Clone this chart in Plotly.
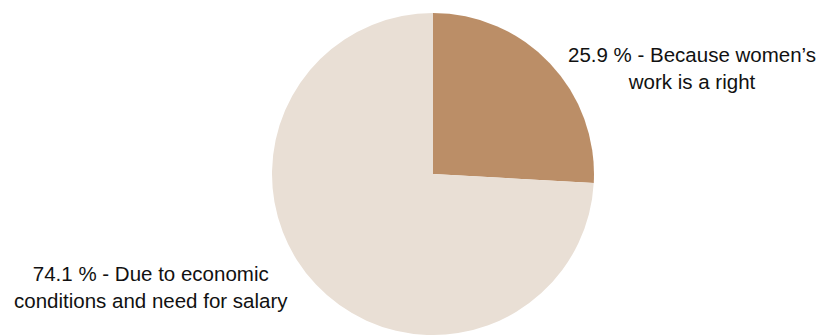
import plotly.graph_objects as go

# Reasons for women's employment (share of respondents, %)
reasons = ["Because women’s<br>work is a right",
           "Due to economic<br>conditions and need for salary"]
shares = [25.9, 74.1]
colors = ["#BB8E67", "#E9DFD5"]

# label anchor points (paper coords) for each slice
label_x = [692 / 821, 151 / 821]
label_y = [1 - 68 / 335, 1 - 287 / 335]

W, H = 821, 335
cx, cy, r = 433, 174, 161

fig = go.Figure(
    go.Pie(
        values=shares,
        labels=[s.replace("<br>", " ") for s in reasons],
        marker=dict(colors=colors, line=dict(width=0)),
        sort=False,
        direction="clockwise",
        rotation=0,
        textinfo="none",
        hoverinfo="label+percent",
        showlegend=False,
        domain=dict(x=[(cx - r) / W, (cx + r) / W],
                    y=[(H - cy - r) / H, (H - cy + r) / H]),
    )
)

for txt, v, x, y in zip(reasons, shares, label_x, label_y):
    a, b = txt.split("<br>")
    fig.add_annotation(
        x=x, y=y, xref="paper", yref="paper",
        text=f"{v} % - {a}<br>{b}",
        showarrow=False, align="center",
        xanchor="center", yanchor="middle",
        font=dict(family="Liberation Sans, Arial, sans-serif", size=20.5, color="#111111"),
    )

fig.update_layout(
    width=W, height=H,
    margin=dict(l=0, r=0, t=0, b=0),
    paper_bgcolor="white",
    plot_bgcolor="white",
)

fig.write_html("out.html")
